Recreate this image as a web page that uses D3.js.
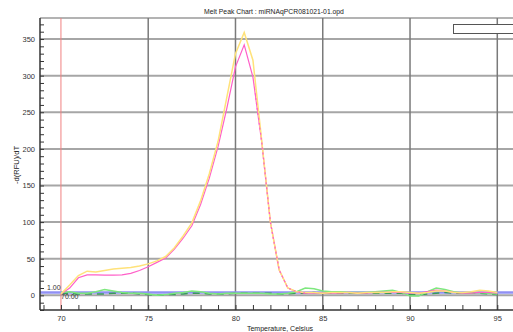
<!DOCTYPE html>
<html>
<head>
<meta charset="utf-8">
<script src="https://cdn.jsdelivr.net/npm/d3@7"></script>
<style>
  body { margin: 0; background: #fff; }
  svg { display: block; font-family: "Liberation Sans", Arial, sans-serif; }
</style>
</head>
<body>
<figure id="melt" style="margin:0"></figure>
<script>
// melt peak data, 0.5 C steps
const temps = [70, 70.5, 71, 71.5, 72, 72.5, 73, 73.5, 74, 74.5, 75, 75.5, 76, 76.5, 77, 77.5, 78, 78.5, 79, 79.5,
  80, 80.5, 81, 81.5, 82, 82.5, 83, 83.5, 84, 84.5, 85, 85.5, 86, 86.5, 87, 87.5, 88, 88.5, 89, 89.5,
  90, 90.5, 91, 91.5, 92, 92.5, 93, 93.5, 94, 94.5, 95];

const yellowVals = [2, 14, 27, 33, 32, 34, 36, 37, 38, 40, 43, 47, 53, 65, 81, 99, 129, 166, 210, 270,
  330, 359, 321, 212, 100, 35, 10, 5, 4, 4, 3, 4, 4, 4, 3, 4, 4, 4, 5, 5,
  4, 3, 4, 6, 6, 4, 4, 5, 7, 6, 4];

const pinkVals = [2, 10, 24, 28, 28, 27.5, 27.5, 28, 30, 34, 39, 45, 51, 63, 78, 95, 124, 160, 203, 255,
  312, 342, 298, 210, 100, 35, 10, 5, 3, 3, 3, 3, 3, 4, 3, 3, 4, 4, 4, 4,
  3, 3, 5, 7, 6, 4, 3, 3, 4, 4, 3];

const greenVals = [4, 5, 3, 3, 5, 8, 6, 4, 3, 3, 2, 0, 1, 3, 4, 6, 5, 3, 2, 3,
  3, 3, 3, 3, 2, 2, 3, 5, 10, 9, 6, 5, 5, 4, 4, 4, 5, 6, 7, 4,
  -1, -1, 5, 10, 8, 5, 3, 3, 4, 3, 2];

const darkGreenVals = [3, 3, 2, 2, 2, 2, 3, 3, 3, 2, 1, 0, 1, 1, 2, 3, 3, 2, 2, 2,
  3, 3, 3, 3, 3, 2, 2, 3, 3, 4, 3, 3, 3, 3, 3, 3, 3, 3, 3, 3,
  1, 1, 2, 3, 4, 3, 3, 3, 3, 2, 1];

const xTicks = [70, 75, 80, 85, 90, 95];
const yTicks = [0, 50, 100, 150, 200, 250, 300, 350];
const threshold = 4;
const markerTemp = 70;

const width = 513, height = 332;
const plotLeft = 40, plotRight = 513, plotTop = 18, plotBottom = 310;

const svg = d3.select("figure#melt")
  .append("svg")
  .attr("width", width)
  .attr("height", height);

const x = d3.scaleLinear().domain([68.8, 95.9]).range([plotLeft, plotRight]);
const y = d3.scaleLinear().domain([-20, 378.7]).range([plotBottom, plotTop]);

// title
svg.append("text")
  .attr("x", 274).attr("y", 13.5)
  .attr("text-anchor", "middle")
  .attr("font-size", "6.8px")
  .attr("fill", "#222")
  .text("Melt Peak Chart : miRNAqPCR081021-01.opd");

// grid
svg.append("line")
  .attr("x1", plotLeft).attr("x2", plotRight).attr("y1", plotTop).attr("y2", plotTop)
  .attr("stroke", "#9a9a9a").attr("stroke-width", 1.5);

svg.selectAll("hgrid")
  .data(yTicks).enter()
  .append("line")
  .attr("x1", plotLeft).attr("x2", plotRight)
  .attr("y1", d => y(d)).attr("y2", d => y(d))
  .attr("stroke", "#a6a6a6").attr("stroke-width", 2);

svg.selectAll("vgrid")
  .data(xTicks.filter(d => d !== markerTemp)).enter()
  .append("line")
  .attr("x1", d => x(d)).attr("x2", d => x(d))
  .attr("y1", plotTop).attr("y2", plotBottom)
  .attr("stroke", "#7a7a7a").attr("stroke-width", 1.5);

// legend box
svg.append("rect")
  .attr("x", 453.5).attr("y", 24.5).attr("width", 70).attr("height", 9)
  .attr("fill", "#fff").attr("stroke", "#555").attr("stroke-width", 1);

// marker line at 70
svg.append("line")
  .attr("x1", x(markerTemp)).attr("x2", x(markerTemp))
  .attr("y1", plotTop).attr("y2", plotBottom)
  .attr("stroke", "#f08080").attr("stroke-width", 1);

// threshold
svg.append("line")
  .attr("x1", plotLeft).attr("x2", plotRight)
  .attr("y1", y(threshold)).attr("y2", y(threshold))
  .attr("stroke", "#9090f4").attr("stroke-width", 2.5);

svg.append("text")
  .attr("x", 47).attr("y", 290)
  .attr("font-size", "7px").attr("fill", "#333")
  .text("1.00");

svg.append("text")
  .attr("x", 61).attr("y", 299)
  .attr("font-size", "7px").attr("fill", "#333")
  .text("70.00");

// curves
const line = (vals) => d3.line()
  .x((d, i) => x(temps[i]))
  .y(d => y(d))(vals);

svg.append("path")
  .attr("d", line(darkGreenVals))
  .attr("fill", "none").attr("stroke", "#3a9a5c").attr("stroke-width", 1.5)
  .attr("stroke-dasharray", "7,5");

svg.append("path")
  .attr("d", line(greenVals))
  .attr("fill", "none").attr("stroke", "#7ee87e").attr("stroke-width", 1.5);

svg.append("path")
  .attr("d", line(pinkVals))
  .attr("fill", "none").attr("stroke", "#ff5fc8").attr("stroke-width", 1.2);

svg.append("path")
  .attr("d", line(yellowVals))
  .attr("fill", "none").attr("stroke", "#ffe27a").attr("stroke-width", 1.5);

// where the two peaks overlap the pink shows through in dashes
svg.append("clipPath").attr("id", "overlap")
  .append("rect")
  .attr("x", x(81.1)).attr("y", plotTop)
  .attr("width", x(84) - x(81.1)).attr("height", plotBottom - plotTop);

svg.append("path")
  .attr("d", line(pinkVals))
  .attr("clip-path", "url(#overlap)")
  .attr("fill", "none").attr("stroke", "#ff5fc8").attr("stroke-width", 1.2)
  .attr("stroke-dasharray", "2,3");

// Y axis
svg.append("g")
  .attr("transform", "translate(" + plotLeft + ",0)")
  .call(d3.axisLeft(y).tickValues(d3.range(-20, 371, 10)).tickSizeInner(-4).tickSizeOuter(0).tickPadding(5)
    .tickFormat(d => yTicks.includes(d) ? d : ""))
  .call(g => g.select(".domain").remove())
  .call(g => g.selectAll("line").attr("stroke", "#333"))
  .call(g => g.selectAll("text").attr("fill", "#333").attr("font-size", "7.5px").attr("font-family", null));

// X axis
svg.append("g")
  .attr("transform", "translate(0," + plotBottom + ")")
  .call(d3.axisBottom(x).tickValues(d3.range(69, 96, 1)).tickSizeInner(-5).tickSizeOuter(0).tickPadding(6)
    .tickFormat(d => xTicks.includes(d) ? d : ""))
  .call(g => g.select(".domain").remove())
  .call(g => g.selectAll("line").attr("stroke", "#333"))
  .call(g => g.selectAll("text").attr("fill", "#333").attr("font-size", "7.5px").attr("font-family", null));

svg.append("line")
  .attr("x1", plotLeft).attr("x2", plotLeft).attr("y1", plotTop).attr("y2", plotBottom)
  .attr("stroke", "#333").attr("stroke-width", 1.5);

svg.append("line")
  .attr("x1", plotLeft).attr("x2", plotRight).attr("y1", plotBottom).attr("y2", plotBottom)
  .attr("stroke", "#333").attr("stroke-width", 1.5);

// axis titles
svg.append("text")
  .attr("transform", "translate(19,165) rotate(-90)")
  .attr("text-anchor", "middle")
  .attr("font-size", "7.5px").attr("fill", "#222")
  .text("-d(RFU)/dT");

svg.append("text")
  .attr("x", 280).attr("y", 330.5)
  .attr("text-anchor", "middle")
  .attr("font-size", "7px").attr("fill", "#222")
  .text("Temperature, Celsius");
</script>
</body>
</html>
